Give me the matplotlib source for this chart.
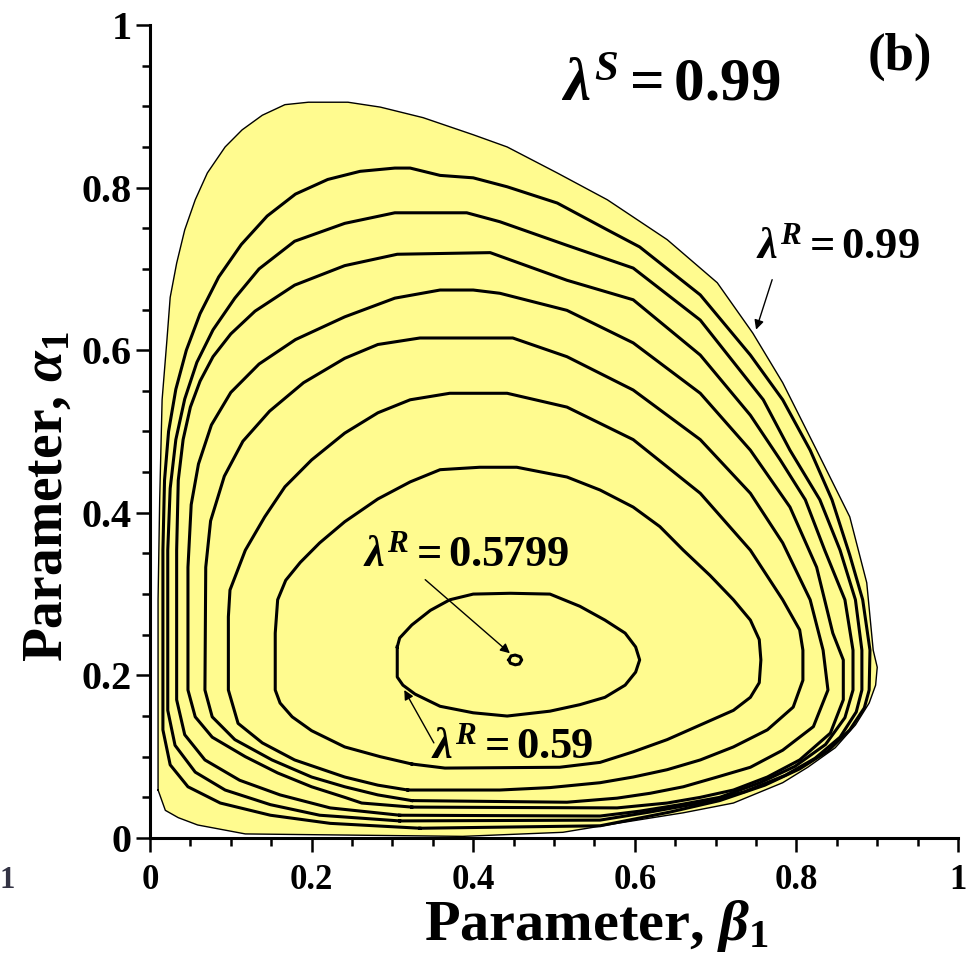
import numpy as np
import matplotlib
matplotlib.use("Agg")
import matplotlib.pyplot as plt
from matplotlib.ticker import FixedLocator, MultipleLocator

plt.rcParams['font.family'] = ['Liberation Serif', 'DejaVu Serif']
plt.rcParams['font.weight'] = 'bold'
plt.rcParams['mathtext.fontset'] = 'custom'
plt.rcParams['mathtext.rm'] = 'Liberation Serif:bold'
plt.rcParams['mathtext.it'] = 'Liberation Serif:italic:bold'
plt.rcParams['mathtext.bf'] = 'Liberation Serif:bold'

# contour lines of lambda^R (beta_1, alpha_1)
ring_099_b = [.010, .010, .010, .012, .015, .021, .025, .033, .043, .056, .071, .093, .114, .139, .167, .196,
              .245, .285, .338, .400, .442, .504, .566, .640, .702, .746, .783, .825, .866, .887, .895, .900,
              .898, .890, .873, .848, .814, .783, .722, .660, .578, .511, .387, .118, .059, .035, .019]
ring_099_a = [.059, .170, .293, .416, .539, .613, .665, .707, .748, .785, .818, .850, .871, .889, .902, .905,
              .905, .899, .886, .865, .850, .818, .785, .736, .683, .621, .560, .477, .395, .314, .231, .210,
              .188, .166, .139, .111, .087, .068, .043, .031, .018, .007, .002, .005, .016, .025, .034]

ring_094_b = [.334, .223, .149, .087, .047, .025, .016, .016, .016, .018, .023, .032, .045, .062, .085, .113,
              .145, .180, .220, .260, .303, .322, .359, .400, .442, .504, .566, .606, .681, .743, .783, .817,
              .844, .866, .882, .891, .890, .884, .866, .839, .804, .761, .705, .644, .557]
ring_094_a = [.012, .018, .028, .043, .063, .090, .133, .231, .354, .440, .500, .552, .600, .645, .690, .730,
              .765, .792, .810, .820, .824, .824, .815, .812, .801, .781, .748, .727, .668, .594, .539, .477,
              .416, .348, .293, .231, .182, .160, .133, .107, .085, .065, .046, .032, .015]

ring_089_b = [.309, .210, .149, .093, .056, .031, .022, .022, .022, .025, .032, .043, .058, .078, .105, .135,
              .179, .241, .303, .392, .433, .516, .598, .681, .759, .792, .829, .854, .873, .881, .881, .874,
              .854, .823, .786, .736, .681, .619, .557]
ring_089_a = [.021, .028, .041, .059, .081, .114, .157, .256, .354, .430, .490, .540, .585, .625, .664, .700,
              .734, .756, .769, .769, .758, .729, .701, .637, .539, .477, .416, .354, .293, .231, .182, .155,
              .124, .098, .077, .057, .043, .032, .022]

ring_084_b = [.309, .223, .161, .111, .068, .043, .033, .033, .033, .035, .041, .050, .062, .078, .100, .130,
              .179, .241, .306, .421, .516, .598, .681, .743, .780, .811, .835, .860, .870, .870, .860, .836,
              .798, .755, .705, .656, .606, .557]
ring_084_a = [.028, .037, .053, .071, .096, .127, .170, .268, .354, .440, .490, .530, .562, .592, .620, .648,
              .680, .704, .718, .720, .686, .662, .594, .520, .465, .416, .354, .293, .231, .182, .148, .115,
              .088, .068, .050, .041, .033, .027]

ring_079_b = [.324, .262, .241, .200, .158, .118, .077, .056, .047, .047, .051, .060, .076, .100, .135, .180,
              .241, .303, .359, .400, .433, .516, .598, .681, .743, .792, .825, .845, .858, .858, .842, .804,
              .764, .722, .681, .640, .578]
ring_079_a = [.038, .043, .050, .063, .080, .100, .124, .149, .182, .333, .410, .460, .508, .548, .583, .613,
              .641, .664, .674, .674, .670, .649, .609, .547, .477, .407, .333, .252, .219, .170, .129, .096,
              .075, .059, .050, .043, .037]

ring_074_b = [.324, .282, .241, .200, .151, .105, .077, .068, .069, .075, .092, .115, .148, .190, .241, .282,
              .334, .449, .516, .598, .681, .743, .783, .817, .833, .839, .821, .783, .743, .702, .660, .619,
              .578, .516]
ring_074_a = [.046, .053, .063, .075, .096, .121, .149, .182, .333, .390, .445, .488, .525, .560, .590, .607,
              .615, .615, .592, .551, .490, .424, .363, .293, .231, .182, .137, .108, .087, .075, .063, .055,
              .049, .044]

ring_069_b = [.319, .282, .241, .179, .139, .109, .097, .097, .099, .118, .142, .167, .200, .241, .282, .322,
              .371, .442, .516, .598, .681, .743, .783, .804, .808, .808, .796, .764, .722, .681, .640, .598,
              .557, .495, .433]
ring_069_a = [.059, .065, .075, .096, .117, .141, .182, .272, .305, .354, .395, .432, .465, .498, .523, .539,
              .547, .547, .530, .490, .424, .354, .293, .256, .231, .194, .161, .133, .112, .096, .084, .075,
              .068, .062, .059]

ring_064_b = [.324, .285, .241, .200, .176, .161, .155, .155, .158, .168, .186, .210, .241, .282, .322, .359,
              .408, .454, .516, .557, .598, .631, .660, .693, .722, .743, .754, .756, .754, .743, .722, .681,
              .640, .598, .557, .507, .365]
ring_064_a = [.091, .100, .112, .132, .149, .166, .182, .252, .293, .317, .339, .363, .389, .417, .438, .453,
              .456, .456, .444, .428, .407, .383, .354, .323, .293, .268, .244, .219, .191, .173, .157, .139,
              .121, .106, .093, .087, .086]

ring_059_b = [.306, .306, .313, .328, .359, .400, .442, .495, .532, .563, .588, .601, .606, .601, .588, .563,
              .532, .495, .446, .400, .371, .347, .324, .309]
ring_059_a = [.235, .198, .188, .177, .162, .154, .150, .156, .164, .173, .188, .204, .219, .235, .252, .268,
              .285, .300, .301, .300, .293, .280, .262, .246]

ring_05799_b = [.444, .447, .452, .458, .460, .457, .452, .446]
ring_05799_a = [.219, .224, .225, .223, .219, .214, .213, .215]

inner_rings = [
    (ring_094_b, ring_094_a), (ring_089_b, ring_089_a), (ring_084_b, ring_084_a),
    (ring_079_b, ring_079_a), (ring_074_b, ring_074_a), (ring_069_b, ring_069_a),
    (ring_064_b, ring_064_a), (ring_059_b, ring_059_a), (ring_05799_b, ring_05799_a),
]

tick_vals = [0, 0.2, 0.4, 0.6, 0.8, 1]
tick_labels = ['0', '0.2', '0.4', '0.6', '0.8', '1']

# labels: text, text position, arrow tail, arrow head
notes = [
    (r'$\lambda^R = 0.99$', (0.851, 0.726), (0.771, 0.690), (0.749, 0.622)),
    (r'$\lambda^R = 0.5799$', (0.391, 0.348), (0.338, 0.320), (0.448, 0.225)),
    (r'$\lambda^R = 0.59$', (0.448, 0.111), (0.353, 0.114), (0.313, 0.185)),
]


def closed(xs, ys):
    return list(xs) + [xs[0]], list(ys) + [ys[0]]


fig = plt.figure(figsize=(9.79, 9.61), dpi=100)
ax = fig.add_axes([0.1532, 0.128, 0.8254, 0.846])

bx, by = closed(ring_099_b, ring_099_a)
ax.fill(bx, by, color='#fffb8f', zorder=1, lw=0)
ax.plot(bx, by, color='black', lw=1.0, zorder=2)
for rb, ra in inner_rings:
    xs, ys = closed(rb, ra)
    ax.plot(xs, ys, color='black', lw=2.2, zorder=3, solid_joinstyle='round')

for txt, pos, tail, head in notes:
    ax.text(pos[0], pos[1], txt, fontsize=32, ha='center', va='center', zorder=5)
    ax.annotate('', xy=head, xytext=tail,
                arrowprops=dict(arrowstyle='-|>', color='black', lw=1.0, mutation_scale=14), zorder=5)

ax.text(0.644, 0.926, r'$\lambda^S = 0.99$', fontsize=44, ha='center', va='center')
ax.text(0.928, 0.961, '(b)', fontsize=38, ha='center', va='center')

ax.set_xlim(0, 1)
ax.set_ylim(0, 1)
ax.spines['top'].set_visible(False)
ax.spines['right'].set_visible(False)
for s in ('left', 'bottom'):
    ax.spines[s].set_linewidth(2.2)
ax.xaxis.set_major_locator(FixedLocator(tick_vals))
ax.yaxis.set_major_locator(FixedLocator(tick_vals))
ax.set_xticklabels(tick_labels)
ax.set_yticklabels(tick_labels)
ax.xaxis.set_minor_locator(MultipleLocator(0.05))
ax.yaxis.set_minor_locator(MultipleLocator(0.05))
ax.tick_params(which='major', direction='out', length=10, width=1.8)
ax.tick_params(which='minor', direction='out', length=6, width=1.8)
ax.tick_params(axis='x', labelsize=25, pad=9)
ax.tick_params(axis='y', labelsize=29, pad=3)

ax.set_xlabel(r'Parameter, $\beta_1$', fontsize=42, fontweight='bold')
ax.set_ylabel(r'Parameter, $\alpha_1$', fontsize=40, fontweight='bold')
ax.xaxis.set_label_coords(0.553, -0.074)
ax.yaxis.set_label_coords(-0.095, 0.42)

fig.text(0.0, 0.084, '1', fontsize=22, ha='left', va='center', color='#333344')

fig.savefig('out.png', dpi=100)
